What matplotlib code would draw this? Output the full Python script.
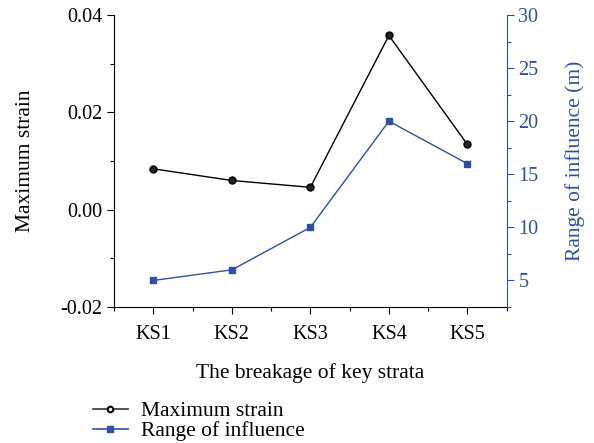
import matplotlib
matplotlib.use("Agg")
import matplotlib.pyplot as plt
from matplotlib.ticker import MultipleLocator
from matplotlib.lines import Line2D

plt.rcParams['font.family'] = ['Liberation Serif', 'DejaVu Serif']
plt.rcParams['mathtext.fontset'] = 'stix'

categories = ["KS1", "KS2", "KS3", "KS4", "KS5"]
max_strain = [0.0084, 0.0060, 0.0046, 0.0358, 0.0134]
range_influence = [5, 6, 10, 20, 16]

blue = '#2D4FA6'
fig = plt.figure(figsize=(5.94, 4.43), dpi=100)
ax = fig.add_axes([0.192, 0.307, 0.661, 0.659])
ax2 = ax.twinx()

x = list(range(1, len(categories) + 1))
l1, = ax.plot(x, max_strain, color='black', lw=1.0, marker='o', ms=5,
              mfc='#222222', mec='black', zorder=3)
l2, = ax2.plot(x, range_influence, color=blue, lw=1.0, marker='s', ms=5,
               mfc=blue, mec=blue, zorder=3)

ax.set_xlim(0.5, 5.5)
ax.set_ylim(-0.02, 0.04)
ax2.set_ylim(2.5, 30)
ax.set_xticks(x)
ax.set_xticklabels(categories)
ax.xaxis.set_minor_locator(MultipleLocator(0.5))
ax.yaxis.set_major_locator(MultipleLocator(0.02))
ax.yaxis.set_minor_locator(MultipleLocator(0.01))
ax.yaxis.set_major_formatter(plt.FuncFormatter(lambda v, p: f"{v:.2f}"))
ax2.yaxis.set_major_locator(MultipleLocator(5))
ax2.yaxis.set_minor_locator(MultipleLocator(2.5))

for a in (ax, ax2):
    a.spines['top'].set_visible(False)
ax.spines['right'].set_visible(False)
ax2.spines['left'].set_visible(False)
ax2.spines['bottom'].set_visible(False)
ax2.spines['right'].set_color(blue)

ax.tick_params(axis='both', which='major', direction='out', length=5, width=0.8,
               labelsize=14.5, colors='black')
ax.tick_params(axis='x', which='major', pad=8)
ax.tick_params(axis='both', which='minor', direction='out', length=3, width=0.8)
ax2.tick_params(axis='y', which='major', direction='out', length=5, width=0.8,
                labelsize=14.5, colors=blue)
ax2.tick_params(axis='y', which='minor', direction='out', length=3, width=0.8, colors=blue)

ax.set_ylabel("Maximum strain", fontsize=15.5, labelpad=18)
ax2.set_ylabel("Range of influence (m)", fontsize=15.5, color=blue, labelpad=19)
ax.set_xlabel("The breakage of key strata", fontsize=15.5, labelpad=14)

h1 = Line2D([], [], color='#333333', lw=1.2, marker='o', ms=4, mfc='white', mec='black', mew=1.5)
h2 = Line2D([], [], color=blue, lw=1.2, marker='s', ms=4, mfc=blue, mec=blue)
fig.legend([h1, h2], ["Maximum strain", "Range of influence"], loc='upper left',
           bbox_to_anchor=(0.157, 0.094), frameon=False, fontsize=15.5,
           handlelength=1.6, handletextpad=0.6, labelspacing=0.0, borderpad=0,
           borderaxespad=0)

fig.savefig("out.png", dpi=100)
